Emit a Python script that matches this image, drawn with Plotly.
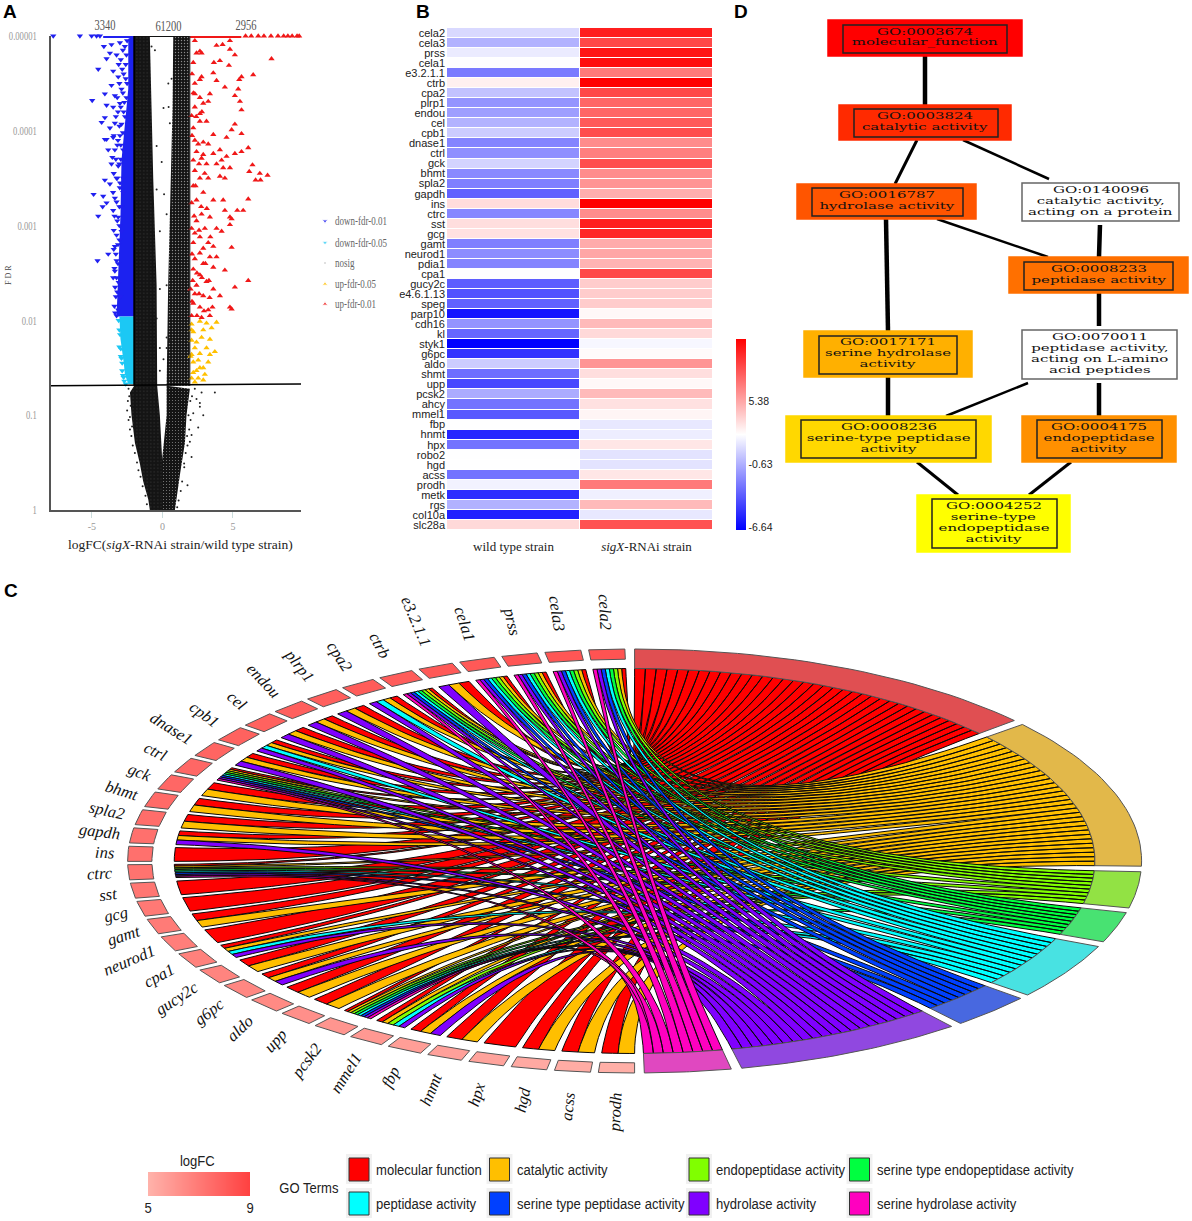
import json
import numpy as np
import plotly.graph_objects as go

W, H = 1192, 1221
SERIF = "Liberation Serif"
SANS = "Liberation Sans"

# ---- panel A, values (logFC, -log10 FDR)
UP_X = [2.30,2.66,2.42,2.78,2.19,3.84,4.27,4.79,4.79,5.14,4.72,4.08,3.65,7.74,3.61,2.78,2.30,2.66,3.84,5.61,6.44,5.45,4.43,5.38,2.30,2.66,3.37,3.25,2.90,2.30,2.07,2.66,5.50,5.14,5.61,5.14,4.91,4.55,5.61,3.61,2.66,2.19,3.13,2.90,3.25,2.54,2.42,3.61,4.08,4.55,2.78,2.19,3.13,3.84,4.20,4.31,4.08,4.43,4.79,6.09,5.61,5.14,6.39,6.16,6.91,7.46,6.61,6.96,2.30,2.66,3.25,2.19,2.90,2.42,2.07,6.09,5.73,5.31,4.79,3.61,4.31,4.43,2.78,3.37,2.42,2.07,3.01,3.84,4.79,4.91,2.19,2.66,3.25,4.20,3.61,4.91,2.66,2.30,3.37,3.84,2.90,2.19,3.61,4.43,6.09,5.14,3.13,2.66,2.42,2.00,2.90,3.61,4.08,2.19,2.66,3.25,4.79,4.91,2.07,2.78,3.37,
        2.1,2.2,2.4,2.8,2.3,2.1,2.9,2.6,3.0,2.35,2.75,2.25,3.15,2.6,2.3,3.4,2.1,2.9,3.05,2.45,2.8,3.3,2.15,2.6,3.35,2.3,2.95,3.55,2.45,2.1,
        5.9,6.3,6.8,7.2,7.7,8.2,8.6,8.9,9.2,9.55,9.7]
UP_Y = [4.95,4.84,4.82,4.82,4.72,4.90,4.91,4.95,4.86,4.80,4.69,4.74,4.72,4.76,4.61,4.57,4.50,4.54,4.53,4.57,4.59,4.54,4.46,4.44,4.39,4.35,4.39,4.31,4.29,4.25,4.16,4.18,4.31,4.37,4.22,4.07,4.01,3.93,3.97,3.96,4.10,4.03,4.10,3.88,3.86,3.86,3.78,3.76,3.80,3.73,3.71,3.69,3.65,3.65,3.69,3.61,3.52,3.50,3.61,3.82,3.78,3.76,3.64,3.57,3.55,3.53,3.48,3.48,3.58,3.50,3.50,3.42,3.35,3.27,3.24,3.28,3.16,3.16,3.09,3.27,3.27,3.16,3.12,3.09,3.05,2.97,2.97,2.97,3.01,3.07,2.82,2.88,2.82,2.94,2.78,2.77,2.71,2.65,2.67,2.67,2.60,2.54,2.56,2.53,2.42,2.35,2.41,2.48,2.37,2.33,2.26,2.33,2.26,2.18,2.14,2.11,2.14,2.12,2.05,2.03,2.05,
        4.6,4.4,4.15,4.2,3.9,3.95,3.75,3.65,3.55,3.42,3.20,3.10,3.18,2.95,2.92,2.88,2.70,2.76,2.60,2.50,2.45,2.42,2.42,2.28,2.24,2.28,2.10,2.14,2.05,2.20,
        5,5,5,5,5,5,5,5,5,5,5]
DOWN_X = [-7.74,-5.85,-5.02,-4.67,-4.43,-4.15,-3.61,-3.01,-3.72,-2.66,-3.25,-3.96,-4.55,-3.49,-3.13,-3.61,-2.90,-3.37,-4.08,-4.98,-3.96,-3.49,-3.01,-4.08,-4.31,-3.37,-3.72,-2.90,-3.96,-3.49,-3.01,-3.84,-3.37,-2.78,-4.08,-3.61,-3.13,-4.08,-3.72,-3.25,-2.78,-4.88,-4.20,-3.96,-3.37,-4.24,-4.55,-3.49,-3.13,-3.84,-4.60,-3.37,-3.25,-3.49,-3.37,-3.13,-3.25,-2.90,-2.78,
          -2.6,-2.75,-2.5,-2.95,-2.7,-2.65,-3.15,-3.2,-2.95,-3.0,-2.9,-3.05,-3.1,-3.0,
          -2.5,-2.8,-2.55,-3.1,-2.85,-2.6,-3.05,-2.8,-2.55,-3.2,-2.95,-2.75,-3.3,-3.05,-2.8,-3.45,-3.15,-2.95,-3.55,-3.3,-3.05,-3.45,-3.2,-3.02,-3.5,-3.25,-3.05,-3.4,-3.2,-3.05,-3.45,-3.25,-3.15,-3.45,-3.3,-3.15,-3.4,-3.25,-3.35,-3.3,-3.4,-3.35,-3.2]
DOWN_Y = [5,5,5,5,5,4.89,4.91,4.93,4.82,4.89,4.80,4.76,4.65,4.63,4.57,4.48,4.44,4.37,4.39,4.32,4.27,4.25,4.29,4.14,4.09,4.08,4.03,4.07,3.91,3.93,3.95,3.80,3.80,3.80,3.91,3.65,3.63,3.48,3.44,3.50,3.50,3.33,3.31,3.24,3.29,3.20,3.10,3.16,3.09,2.70,2.63,2.78,2.63,2.45,2.52,2.11,2.05,2.94,3.35,
          4.7,4.6,4.5,4.75,4.3,4.15,4.2,3.85,3.7,3.45,3.2,2.85,2.4,2.25,
          4.95,4.85,4.8,4.7,4.65,4.55,4.5,4.4,4.35,4.35,4.25,4.2,4.15,4.05,3.98,3.95,3.9,3.85,3.72,3.7,3.65,3.55,3.5,3.4,3.35,3.25,3.2,3.1,3.05,3.0,2.95,2.9,2.8,2.75,2.7,2.6,2.55,2.45,2.35,2.25,2.15,2.08,2.3]
DOWN05_PTS_X = [-3.1,-3.05,-3.0,-3.05,-2.95,-2.9,-2.95,-2.85,-2.85,-2.8,-2.75,-2.7,-2.6]
DOWN05_PTS_Y = [2.0,1.9,1.85,1.72,1.7,1.6,1.62,1.55,1.47,1.42,1.4,1.36,1.33]
UP05_X = [2.07,2.66,3.13,3.84,2.19,2.90,3.49,2.07,2.78,3.37,2.30,3.13,3.72,2.07,2.66,3.37,2.19,2.54,3.25,2.90,2.42,2.07,2.54,3.01,2.90,2.30,2.00,2.07,2.42,2.66,2.19]
UP05_Y = [1.96,1.99,1.97,1.98,1.88,1.90,1.92,1.79,1.82,1.80,1.71,1.71,1.67,1.64,1.65,1.64,1.56,1.58,1.56,1.50,1.47,1.39,1.39,1.43,1.37,1.35,1.62,1.90,1.77,1.50,1.45]
NOSIG_X = [0.44,0.08,-0.41,0.30,-0.18,0.30,-0.18,0.08,-0.41,0.30,-0.18,0.53,-0.53,0.42,-0.77,0.65,0.12,-0.41,-0.05,0.30,0.53,0.65,-0.18,
           2.78,3.72,2.42,2.66,2.90,2.19,2.54,2.07,1.78,2.07,1.54,1.78,2.30,2.66,
           -2.4,-2.45,-2.5,-2.4,-2.3,-2.2,-2.1,-1.95,-1.8,-1.7,-1.55,-1.4,-1.2,-1.1,-2.35,-2.25,-2.3,-2.15,
           1.98,1.85,1.9,1.75,1.65,1.55,1.4,1.3,1.15,1.05,2.1,1.7,2.0,1.95,1.6]
NOSIG_Y = [4.25,4.24,3.84,2.37,2.33,1.82,1.71,1.59,2.02,3.12,2.94,4.08,4.85,4.50,4.89,4.55,3.33,3.38,3.67,1.71,1.79,1.49,1.47,
           1.24,1.24,1.17,1.09,1.00,1.02,0.87,0.79,0.68,0.56,0.49,0.26,1.28,1.13,
           1.28,1.15,1.05,0.95,0.85,0.78,0.68,0.6,0.5,0.42,0.35,0.25,0.15,0.06,1.2,1.1,0.98,0.88,
           1.15,1.0,0.85,0.78,0.6,0.45,0.3,0.2,0.1,0.03,1.2,1.12,0.95,0.72,0.9]

# envelopes of the areas too dense to show point by point
CLOUD_L_X = [-2,-0.89,-0.77,-0.65,-0.41,-0.37,-0.18,0,0,-0.89,-1.0,-1.36,-1.6,-1.95,-2.19,-2.3,-2]
CLOUD_L_Y = [5,5,4.25,3.5,2.37,1.31,1.0,0.49,0,0,0.11,0.30,0.49,0.71,1.0,1.24,1.31]
CLOUD_R_X = [0.77,1.95,1.95,0.30,0.41,0.58,0.72]
CLOUD_R_Y = [5,5,1.31,1.31,2.37,3.5,4.25]
FUNNEL_R_X = [0.30,1.95,1.71,1.6,1.24,1.0,0.89,-0.05,-0.05,0.30]
FUNNEL_R_Y = [1.31,1.28,1.0,0.71,0.37,0.11,0,0,0.49,1.0]
DOWN_MASS_X = [-2,-2.42,-2.42,-2.66,-2.90,-2.97,-3.06,-3.20,-3.25,-2]
DOWN_MASS_Y = [5,4.97,4.44,4.07,3.69,3.12,2.75,2.37,2.04,2.04]
DOWN05_X = [-2,-3.05,-2.97,-2.83,-2.73,-2.66,-2.42,-2]
DOWN05_Y = [2.04,2.04,1.80,1.67,1.54,1.43,1.33,1.33]
FDR_TICKS = ["1","0.1","0.01","0.001","0.0001","0.00001"]
COUNT_LABELS = ["3340","61200","2956"]
VOLCANO_LEGEND = ["down-fdr-0.01","down-fdr-0.05","nosig","up-fdr-0.05","up-fdr-0.01"]

# ---- panel B
HEAT_GENES = ["cela2","cela3","prss","cela1","e3.2.1.1","ctrb","cpa2","plrp1","endou","cel","cpb1","dnase1","ctrl","gck","bhmt","spla2","gapdh","ins","ctrc","sst","gcg","gamt","neurod1","pdia1","cpa1","gucy2c","e4.6.1.13","speg","parp10","cdh16","kl","styk1","g6pc","aldo","shmt","upp","pcsk2","ahcy","mmel1","fbp","hnmt","hpx","robo2","hgd","acss","prodh","metk","rgs","col10a","slc28a"]
WILD_TYPE = [0.85,-0.53,1.49,2.2,-2.55,2.77,0.02,-1.63,-1.26,-0.53,0.39,-2.18,-1.81,0.66,-2.0,-2.37,-3.47,3.5,-2.09,3.41,3.32,-2.37,-1.9,-2.18,2.2,-3.56,-4.02,-3.47,-6.22,-1.63,-3.28,-6.9,-5.12,0.39,-3.0,-4.38,-0.8,-2.82,-3.74,2.2,-5.58,-2.82,2.2,2.2,-2.82,1.76,-5.3,-0.53,-5.76,3.6]
SIGX_RNAI = [10.29,8.82,10.66,10.93,6.99,11.39,8.82,7.72,7.72,8.18,8.64,6.35,6.81,8.64,6.35,6.07,5.15,11.39,6.35,10.29,10.02,5.25,5.43,4.97,8.82,4.05,4.05,4.05,2.49,4.7,3.6,1.94,2.4,6.07,3.41,2.49,4.7,3.32,2.59,1.39,1.58,3.13,1.21,1.21,3.13,6.99,1.67,4.7,1.39,8.45]
STRAINS = ["wild type strain","<i>sigX</i>-RNAi strain"]
HEAT_TICKS = [5.38,-0.63,-6.64]

# ---- panel C
CHORD_GENES = ["cela2","cela3","prss","cela1","e3.2.1.1","ctrb","cpa2","plrp1","endou","cel","cpb1","dnase1","ctrl","gck","bhmt","spla2","gapdh","ins","ctrc","sst","gcg","gamt","neurod1","cpa1","gucy2c","g6pc","aldo","upp","pcsk2","mmel1","fbp","hnmt","hpx","hgd","acss","prodh"]
CHORD_LOGFC = [8.3,8.2,8.2,8.1,8.1,8.0,8.0,7.9,7.9,7.8,7.8,7.7,7.6,7.6,7.5,7.4,7.3,7.3,7.2,7.1,7.0,6.9,6.8,6.7,6.6,6.5,6.4,6.2,6.0,5.9,5.7,5.6,5.5,5.3,5.2,5.1]
CORE_GENES = ["cela2","cela3","prss","cela1","ctrb","ctrl","ctrc","pcsk2"]
NOT_CATALYTIC = ["ins","sst","gcg","neurod1","hpx"]
PEPTIDASE_EXTRA = ["cpa2","cpb1","cpa1","mmel1"]
HYDROLASE_EXTRA = ["e3.2.1.1","cpa2","plrp1","endou","cel","cpb1","dnase1","gapdh","cpa1","g6pc","mmel1","fbp"]
TERM_MEMBERS = [
    CHORD_GENES,
    [g for g in CHORD_GENES if g not in NOT_CATALYTIC],
    CORE_GENES + ["mmel1"],
    CORE_GENES,
    CORE_GENES + PEPTIDASE_EXTRA,
    CORE_GENES,
    CORE_GENES + HYDROLASE_EXTRA,
    CORE_GENES,
]
TERM_LABELS = ["molecular function","catalytic activity","endopeptidase activity","serine type endopeptidase activity","peptidase activity","serine type peptidase activity","hydrolase activity","serine hydrolase activity"]
TERM_COLORS = ["#ff0000","#ffbf00","#80ff00","#00ff40","#00ffff","#0040ff","#8000ff","#ff00bf"]
RING_COLORS = ["#e04f52","#e2b84a","#92e244","#48e272","#48e2e2","#4868e0","#9048e0","#e048c0"]
# start and end of each term on the circle, degrees clockwise from the top
TERM_ARCS = [(0,48.5),(49.9,91.4),(92.9,102.8),(104.1,112.4),(113.8,129.2),(130.4,140),(141.3,167.8),(169,178.9)]

# ---- panel D
GO_NODES = [
    (("GO:0003674","molecular_function"), "#ff0000", (828,1022,20,56), (843,1007,25,53)),
    (("GO:0003824","catalytic activity"), "#ff2a00", (839,1011,105,140), (854,998,109,137)),
    (("GO:0016787","hydrolase activity"), "#ff5500", (797,976,184,219), (812,963,188,216)),
    (("GO:0140096","catalytic activity,","acting on a protein"), "#ffffff", (1022,1179,183,221), None),
    (("GO:0008233","peptidase activity"), "#ff7000", (1009,1188,257,293), (1024,1173,262,290)),
    (("GO:0017171","serine hydrolase","activity"), "#ffb000", (804,972,331,377), (819,957,336,374)),
    (("GO:0070011","peptidase activity,","acting on L-amino","acid peptides"), "#ffffff", (1022,1177,330,379), None),
    (("GO:0008236","serine-type peptidase","activity"), "#ffd800", (786,991,416,462), (801,976,420,458)),
    (("GO:0004175","endopeptidase","activity"), "#ff9000", (1022,1176,416,462), (1037,1162,420,458)),
    (("GO:0004252","serine-type","endopeptidase","activity"), "#ffff00", (917,1070,495,552), (932,1057,499,548)),
]
GO_EDGES = [
    (925,56,925,105,4.5),(917,140,895,184,3),(963,140,1049,179,2.5),(937,219,1048,257,2.5),
    (886,219,888,331,4.5),(1100,225,1099,257,4.5),(1099,293,1099,326,4.5),(888,377,888,416,4.5),
    (1028,383,946,416,2.5),(1099,383,1099,416,4.5),(917,462,958,495,3),(1071,462,1029,495,3),
]

fig = go.Figure()
shapes = []
notes = []
stretched = []  # [annotation index, x scale, origin], the source figure is not drawn to a 1:1 aspect


def note(x, y, text, size=12, color="#222", family=SERIF, angle=0, xanchor="center", scale=None):
    if scale:
        stretched.append([len(notes), scale, "left center" if xanchor == "left" else "center"])
    notes.append(dict(x=x, y=y, xref="x3", yref="y3", text=text, showarrow=False, textangle=angle,
                      xanchor=xanchor, yanchor="middle", borderpad=0,
                      font=dict(size=size, color=color, family=family)))


# ---- volcano
def blob(x, y, color=None, pattern=None):
    kw = dict(fillpattern=pattern) if pattern else dict(fillcolor=color)
    fig.add_trace(go.Scatter(x=x, y=y, mode="lines", fill="toself", line=dict(width=0),
                             hoverinfo="skip", showlegend=False, xaxis="x", yaxis="y", **kw))


def speckle(size, solidity):
    return dict(shape=".", size=size, solidity=solidity, bgcolor="#141414", fgcolor="#ffffff")


blob(CLOUD_L_X, CLOUD_L_Y, pattern=speckle(3.5, 0.04))
blob(CLOUD_R_X, CLOUD_R_Y, pattern=speckle(3, 0.16))
blob(FUNNEL_R_X, FUNNEL_R_Y, pattern=speckle(3, 0.10))
blob(DOWN_MASS_X, DOWN_MASS_Y, color="#1c22f0")
blob(DOWN05_X, DOWN05_Y, color="#1cc8f4")


def line_a(x, y, color, width):
    fig.add_trace(go.Scatter(x=x, y=y, mode="lines", line=dict(color=color, width=width), cliponaxis=False,
                             hoverinfo="skip", showlegend=False, xaxis="x", yaxis="y"))


def pts(x, y, symbol, color, size):
    fig.add_trace(go.Scatter(x=x, y=y, mode="markers", cliponaxis=False, hoverinfo="skip", showlegend=False,
                             marker=dict(symbol=symbol, color=color, size=size, line=dict(width=0)),
                             xaxis="x", yaxis="y"))


pts(NOSIG_X, NOSIG_Y, "circle", "#222222", 2)
pts(UP05_X, UP05_Y, "triangle-up", "#ffc000", 5.5)
pts(UP_X, UP_Y, "triangle-up", "#f01818", 5.5)
pts(DOWN_X, DOWN_Y, "triangle-down", "#2020f0", 5.5)
pts(DOWN05_PTS_X, DOWN05_PTS_Y, "triangle-down", "#1cc8f4", 5.5)
line_a([-4.2, -2], [5, 5], "#2020f0", 4)
line_a([1.95, 5.6], [5, 5], "#f01818", 4)
line_a([-2, 1.95], [5, 5], "#111111", 2)
line_a([-2, -2], [5, 1.31], "#000000", 1.8)
line_a([1.95, 1.95], [5, 1.31], "#333333", 1)
line_a([-7.9, 9.83], [1.311, 1.329], "#000000", 1.5)

for x, y, label in zip((105, 168, 246), (25, 26, 25), COUNT_LABELS):
    note(x, y, label, size=14, color="#555", scale=0.75)
note(8, 275, "F D R", size=8, color="#444", angle=-90)
note(180, 544, "logFC(<i>sigX</i>-RNAi strain/wild type strain)", size=13.5, color="#222")

legend_y = (221, 242.5, 263, 284, 304)
legend_sym = ("triangle-down", "triangle-down", "circle", "triangle-up", "triangle-up")
legend_col = ("#2020f0", "#1cc8f4", "#222222", "#ffc000", "#f01818")
legend_size = (5, 5, 2, 5, 5)
fig.add_trace(go.Scatter(x=[325] * 5, y=legend_y, mode="markers", hoverinfo="skip", showlegend=False,
                         marker=dict(symbol=list(legend_sym), color=list(legend_col), size=list(legend_size)),
                         xaxis="x3", yaxis="y3"))
for y, label in zip(legend_y, VOLCANO_LEGEND):
    note(334, y, label, size=12.5, color="#666", xanchor="left", scale=0.72)

# ---- heatmap
fig.add_trace(go.Heatmap(
    z=[[a, b] for a, b in zip(WILD_TYPE, SIGX_RNAI)], x=STRAINS, y=HEAT_GENES, xaxis="x2", yaxis="y2",
    zmin=-6.94, zmax=11.39, xgap=1, ygap=1, hoverinfo="skip",
    colorscale=[[0, "#0000ff"], [0.5, "#ffffff"], [1, "#ff0000"]],
    colorbar=dict(x=736 / W, xanchor="left", y=(H - 530) / H, yanchor="bottom", len=191, lenmode="pixels",
                  thickness=10, thicknessmode="pixels", outlinewidth=0, ticks="", xpad=0, ypad=0,
                  tickmode="array", tickvals=HEAT_TICKS, ticktext=[str(t) for t in HEAT_TICKS],
                  tickfont=dict(size=10.5, color="#222", family=SANS)),
))

# ---- chord diagram, drawn in unit-circle terms and squeezed to an ellipse on screen
CX, CY, RX, RY = 634.6, 861.0, 507.0, 212.0
R_RIBBON = 0.908
GENE_ARC = 4.1
GENE_PITCH = (178.9 - GENE_ARC) / (len(CHORD_GENES) - 1)


def unit(theta_deg, r=1.0):
    t = np.radians(theta_deg)
    return r * np.sin(t), r * np.cos(t)


def screen(ux, uy):
    return CX + RX * np.asarray(ux), CY - RY * np.asarray(uy)


def arc(t0, t1, r, n=12):
    return unit(np.linspace(t0, t1, n), r)


def bezier(p0, p1, n=50):
    # quadratic curve pulled through the centre of the circle
    s = np.linspace(0, 1, n)
    return (1 - s) ** 2 * p0[0] + s ** 2 * p1[0], (1 - s) ** 2 * p0[1] + s ** 2 * p1[1]


def gene_span(i):
    start = 180 + (len(CHORD_GENES) - 1 - i) * GENE_PITCH
    return start, start + GENE_ARC


# terms of each gene, clockwise-first is the last term
gene_terms = {g: [t for t in reversed(range(8)) if g in TERM_MEMBERS[t]] for g in CHORD_GENES}

for t, members in enumerate(TERM_MEMBERS):
    a0, a1 = TERM_ARCS[t]
    slot = (a1 - a0) / len(members)
    ordered = [g for g in CHORD_GENES if g in members]
    xs, ys = [], []
    for k, g in enumerate(ordered):
        ta0, ta1 = a0 + k * slot, a0 + (k + 1) * slot
        g0, g1 = gene_span(CHORD_GENES.index(g))
        gs = (g1 - g0) / len(gene_terms[g])
        pos = gene_terms[g].index(t)
        tg0, tg1 = g0 + pos * gs, g0 + (pos + 1) * gs
        ax, ay = arc(ta0, ta1, R_RIBBON, 3)
        gx, gy = arc(tg0, tg1, R_RIBBON, 4)
        bx0, by0 = bezier((ax[-1], ay[-1]), (gx[0], gy[0]))
        bx1, by1 = bezier((gx[-1], gy[-1]), (ax[0], ay[0]))
        ux = np.concatenate([ax, bx0, gx, bx1])
        uy = np.concatenate([ay, by0, gy, by1])
        px, py = screen(ux, uy)
        xs += list(px) + [None]
        ys += list(py) + [None]
    fig.add_trace(go.Scatter(x=xs, y=ys, mode="lines", fill="toself", fillcolor=TERM_COLORS[t],
                             line=dict(color="#0a0a0a", width=1), hoverinfo="skip", showlegend=False,
                             xaxis="x3", yaxis="y3"))


def ring(t0, t1, r0, r1, fill):
    x0, y0 = arc(t0, t1, r1, 30)
    x1, y1 = arc(t1, t0, r0, 30)
    px, py = screen(np.concatenate([x0, x1, x0[:1]]), np.concatenate([y0, y1, y0[:1]]))
    fig.add_trace(go.Scatter(x=px, y=py, mode="lines", fill="toself", fillcolor=fill,
                             line=dict(color="#555555", width=1), hoverinfo="skip", showlegend=False,
                             xaxis="x3", yaxis="y3"))


for t, (a0, a1) in enumerate(TERM_ARCS):
    ring(a0, a1, R_RIBBON, 1.0, RING_COLORS[t])

LOW, HIGH = np.array([255, 178, 170]), np.array([255, 64, 64])
for i, (g, v) in enumerate(zip(CHORD_GENES, CHORD_LOGFC)):
    g0, g1 = gene_span(i)
    c = LOW + (HIGH - LOW) * (v - 5) / 4
    ring(g0, g1, 0.952, 1.0, "rgb(%d,%d,%d)" % tuple(c))
    mid = (g0 + g1) / 2
    rot = mid - 270  # 0 at the far left of the circle
    ox, oy = screen(*unit(mid))
    dir_x, dir_y = -np.cos(np.radians(rot)), -np.sin(np.radians(rot))
    gap = 12 + (6 if rot > 0 else 8) * abs(np.sin(np.radians(rot)))
    half = len(g) * 3.9
    note(ox + dir_x * (gap + half), oy + dir_y * (gap + half), "<i>%s</i>" % g, size=16.5, color="#111", angle=rot)

# ---- colour key and term legend under the chord
fig.add_trace(go.Heatmap(z=[[5, 6, 7, 8, 9]], x=[5, 6, 7, 8, 9], y=[0], zmin=5, zmax=9, zsmooth="best", showscale=False,
                         colorscale=[[0, "rgb(255,178,170)"], [1, "rgb(255,64,64)"]], hoverinfo="skip",
                         xaxis="x4", yaxis="y4"))
note(197, 1161, "logFC", size=14.5, color="#222", family=SANS, scale=0.9)
note(148, 1208, "5", size=14.5, color="#222", family=SANS, scale=0.9)
note(250, 1208, "9", size=14.5, color="#222", family=SANS, scale=0.9)
note(309, 1188, "GO Terms", size=14.5, color="#222", family=SANS, scale=0.9)

swatch_x = (349, 349, 489.5, 489.5, 689, 689, 849.5, 849.5)
swatch_y = (1158, 1192, 1158, 1192, 1158, 1192, 1158, 1192)
legend_order = (0, 4, 1, 5, 2, 6, 3, 7)
for sx, sy, t in zip(swatch_x, swatch_y, legend_order):
    shapes.append(dict(type="rect", xref="x3", yref="y3", x0=sx - 3, x1=sx + 23, y0=sy - 4, y1=sy + 26,
                       fillcolor="#f0f0f0", line=dict(width=0), layer="below"))
    shapes.append(dict(type="rect", xref="x3", yref="y3", x0=sx, x1=sx + 20, y0=sy, y1=sy + 23,
                       fillcolor=TERM_COLORS[t], line=dict(color="#333333", width=1)))
    note(sx + 26, sy + 12, TERM_LABELS[t], size=14.5, color="#222", family=SANS, xanchor="left", scale=0.9)

# ---- GO graph
for x0, y0, x1, y1, w in GO_EDGES:
    fig.add_trace(go.Scatter(x=[x0, x1], y=[y0, y1], mode="lines", line=dict(color="#000000", width=w),
                             hoverinfo="skip", showlegend=False, xaxis="x3", yaxis="y3"))
for lines, color, outer, inner in GO_NODES:
    white = color == "#ffffff"
    shapes.append(dict(type="rect", xref="x3", yref="y3", x0=outer[0], x1=outer[1], y0=outer[2], y1=outer[3],
                       fillcolor=color, line=dict(color="#666666" if white else color, width=1.5)))
    if inner:
        shapes.append(dict(type="rect", xref="x3", yref="y3", x0=inner[0], x1=inner[1], y0=inner[2], y1=inner[3],
                           fillcolor=color, line=dict(color="#222222", width=1.5)))
    mid = (outer[2] + outer[3]) / 2 - 1.5
    for k, txt in enumerate(lines):
        note((outer[0] + outer[1]) / 2, mid + (k - (len(lines) - 1) / 2) * 11, txt, size=10,
             color="#111", family="DejaVu Serif", scale=1.5)

for x, y, letter in ((10, 11, "A"), (423, 11, "B"), (741, 11, "D"), (11, 590, "C")):
    note(x, y, "<b>%s</b>" % letter, size=19, color="#000", family=SANS)


def dom(a, b, size):
    return [a / size, b / size]


hidden = dict(visible=False, showgrid=False, zeroline=False)
fig.update_layout(
    width=W, height=H, margin=dict(l=0, r=0, t=0, b=0, autoexpand=False), paper_bgcolor="white", plot_bgcolor="rgba(0,0,0,0)",
    showlegend=False, shapes=shapes, annotations=notes,
    xaxis=dict(domain=dom(51, 301, W), range=[-7.9, 9.83], showgrid=False, zeroline=False, anchor="y",
               showline=True, linecolor="#555", linewidth=1.5, ticks="outside", ticklen=6, tickcolor="#cdd",
               tickmode="array", tickvals=[-5, 0, 5], ticktext=["-5", "0", "5"],
               tickfont=dict(size=10, color="#999", family=SERIF)),
    yaxis=dict(domain=[(H - 510) / H, (H - 36) / H], range=[0, 5], showgrid=False, zeroline=False, anchor="x",
               showline=True, linecolor="#555", linewidth=1.5, ticks="outside", ticklen=10, tickcolor="white",
               tickmode="array", tickvals=[0, 1, 2, 3, 4, 5], ticktext=FDR_TICKS,
               tickfont=dict(size=12, color="#999", family=SERIF)),
    xaxis2=dict(domain=dom(447, 713, W), anchor="y2", showgrid=False, zeroline=False, showline=False, ticks="",
                ticklabelstandoff=7, tickfont=dict(size=13, color="#222", family=SERIF)),
    yaxis2=dict(domain=[(H - 530) / H, (H - 28) / H], anchor="x2", autorange="reversed", showgrid=False,
                zeroline=False, showline=False, ticks="", tickmode="array", tickvals=HEAT_GENES, ticktext=HEAT_GENES,
                ticklabelstandoff=1, tickfont=dict(size=11, color="#222", family=SANS)),
    xaxis3=dict(domain=[0, 1], range=[0, W], anchor="y3", **hidden),
    yaxis3=dict(domain=[0, 1], range=[H, 0], anchor="x3", **hidden),
    xaxis4=dict(domain=dom(148, 250, W), range=[5, 9], anchor="y4", **hidden),
    yaxis4=dict(domain=[(H - 1196) / H, (H - 1172) / H], anchor="x4", **hidden),
)

# squeeze or widen text the way the source image does
POST = """
document.body.style.margin = '0';
function squeeze(el, scale, origin, shift) {
  var m = (el.getAttribute('transform') || '').match(/translate\\(([-\\d.]+)[ ,]*([-\\d.]*)\\)/);
  var dx = m ? parseFloat(m[1]) : 0, dy = (m && m[2]) ? parseFloat(m[2]) : 0;
  el.style.transformBox = 'fill-box';
  el.style.transformOrigin = origin;
  el.style.transform = 'translate(' + dx + 'px,' + (dy + shift) + 'px) scaleX(' + scale + ')';
}
%s.forEach(function (s) {
  var el = document.querySelector('.annotation[data-index="' + s[0] + '"] text');
  if (el) squeeze(el, s[1], s[2], 0);
});
var genes = %s, fdr = %s;
document.querySelectorAll('.ytick text').forEach(function (el) {
  if (fdr.indexOf(el.textContent) >= 0) squeeze(el, 0.72, 'right center', 0);
  else if (genes.indexOf(el.textContent) >= 0) squeeze(el, 0.86, 'right center', 2);
});
""" % (json.dumps(stretched), json.dumps(HEAT_GENES), json.dumps(FDR_TICKS))

fig.write_html("out.html", config=dict(displayModeBar=False), post_script=POST)
